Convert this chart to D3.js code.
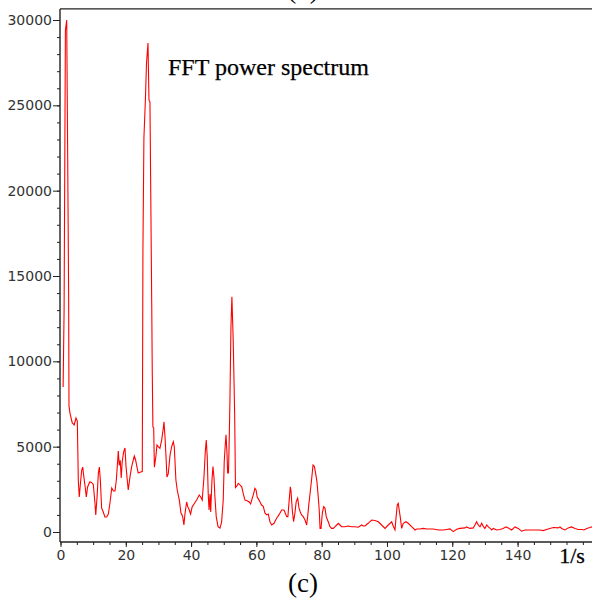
<!DOCTYPE html>
<html>
<head>
<meta charset="utf-8">
<script src="https://cdn.jsdelivr.net/npm/d3@7"></script>
<style>
  body { margin: 0; background: #fff; }
  svg { display: block; }
</style>
</head>
<body>
<div id="grafico"></div>
<script>
const freqs = [0.8, 1.1, 1.3, 1.5, 1.9, 2.2, 2.5, 2.6, 2.9, 3.6, 4.2, 4.75, 5.15, 5.3, 5.45, 5.75, 6.2, 6.5, 6.8, 7.2,
  7.6, 7.9, 8.3, 8.95, 9.5, 10.05, 10.55, 10.8, 11.2, 11.6, 11.9, 12.2, 12.6, 13.1, 13.6, 14.15, 14.65, 15.15, 15.7, 16.2,
  16.7, 17.1, 17.4, 17.7, 18.0, 18.3, 18.6, 18.9, 19.35, 19.75, 20.05, 20.45, 20.75, 21.3, 21.8, 22.3, 22.6, 23.0, 23.4, 23.8,
  24.35, 25.05, 25.25, 25.55, 26.0, 26.35, 26.8, 27.1, 27.4, 27.95, 28.1, 28.3, 28.55, 28.75, 29.05, 29.25, 29.55, 29.95, 30.45, 31.0,
  31.5, 31.7, 32.0, 32.3, 32.6, 33.0, 33.55, 34.05, 34.55, 34.85, 35.05, 35.35, 35.75, 36.4, 36.9, 37.4, 37.8, 38.15, 38.65, 38.95,
  39.45, 39.85, 40.3, 40.9, 41.7, 42.5, 42.95, 43.4, 43.95, 44.35, 44.65, 44.95, 45.25, 45.5, 45.8, 46.0, 46.4, 46.7, 47.0, 47.3,
  47.7, 48.25, 48.85, 49.35, 49.85, 50.15, 50.5, 50.7, 51.0, 51.2, 51.45, 51.7, 51.9, 52.2, 52.5, 52.9, 53.35, 53.6, 54.05, 54.45,
  54.95, 55.5, 56.0, 56.5, 57.2, 57.8, 58.25, 58.55, 59.05, 59.55, 59.9, 60.25, 60.6, 61.1, 61.6, 62.1, 62.65, 63.15, 63.65, 64.15,
  64.7, 65.4, 66.2, 66.9, 67.75, 68.45, 69.3, 69.65, 70.05, 70.4, 70.6, 71.0, 71.4, 71.8, 72.2, 72.65, 73.05, 73.45, 73.85, 74.35,
  74.9, 75.4, 75.7, 76.1, 76.5, 76.95, 77.35, 77.75, 78.15, 78.55, 78.95, 79.25, 79.5, 79.8, 80.2, 80.6, 81.0, 81.4, 82.0, 82.55,
  83.05, 83.55, 84.1, 84.6, 85.1, 85.6, 86.1, 87.15, 88.15, 89.2, 90.2, 91.2, 92.25, 92.75, 93.25, 94.25, 95.3, 96.3, 97.35, 98.35,
  99.4, 100.4, 101.45, 101.9, 102.45, 102.8, 103.15, 103.45, 103.75, 104.05, 104.5, 105.0, 105.8, 106.5, 107.55, 108.6, 109.1, 110.1, 111.1, 112.15,
  114.2, 115.7, 117.25, 118.3, 119.3, 120.3, 121.35, 122.35, 123.9, 124.4, 125.4, 126.45, 126.95, 127.45, 127.95, 128.5, 129.0, 129.5, 130.0, 130.55,
  131.05, 131.6, 132.1, 132.55, 133.6, 134.6, 135.6, 136.45, 137.15, 138.2, 139.2, 140.2, 141.25, 142.3, 143.8, 145.3, 146.85, 147.85, 148.9, 149.9,
  150.95, 152.45, 153.0, 153.5, 154.5, 155.5, 156.55, 157.6, 158.6, 159.65, 160.35, 161.2, 162.15, 162.8];

const potencia = [8500, 13000, 21100, 29400, 30000, 22000, 13600, 7400, 6970, 6390, 6270, 6680, 6500, 4800, 3050, 2050, 3050, 3630, 3800, 3160,
  2580, 2050, 2640, 2930, 2900, 2780, 1700, 1000, 2050, 3460, 3800, 3050, 1400, 1170, 880, 880, 1050, 1700, 2580, 2400,
  2400, 3050, 3870, 4750, 3900, 4200, 3160, 4120, 4700, 4920, 3900, 3050, 2460, 3260, 3830, 4220, 4450, 4220, 3830, 3460,
  3500, 3540, 16600, 23100, 25300, 27500, 28650, 25300, 25200, 13200, 9500, 6150, 6100, 3800, 4200, 4500, 5100, 5000, 4900, 5400,
  6100, 6450, 5600, 4500, 3220, 3400, 4500, 5000, 5290, 5000, 4220, 3050, 2460, 1870, 1110, 930, 410, 1110, 1760, 1500,
  1290, 1050, 1460, 1640, 1870, 2170, 2050, 1870, 3240, 4700, 5390, 4400, 2230, 1290, 2230, 1170, 3050, 3830, 3240, 2050,
  900, 310, 230, 580, 1870, 4120, 5200, 5690, 4600, 3460, 3460, 5590, 7740, 11950, 13790, 11250, 6860, 2600, 2700, 2850,
  2760, 2650, 2230, 1870, 1830, 1760, 1640, 1870, 2170, 2560, 2460, 2050, 1940, 1760, 1580, 1500, 1100, 1000, 1050, 600,
  410, 510, 810, 1000, 1290, 1290, 900, 900, 1870, 2650, 2400, 1290, 600, 1110, 1780, 1990, 1410, 1170, 1000, 900,
  700, 410, 900, 1680, 2360, 3150, 3930, 3850, 3440, 2950, 2050, 1290, 210, 210, 1110, 1480, 1400, 900, 600, 310,
  210, 210, 310, 410, 510, 410, 310, 310, 350, 310, 310, 280, 410, 350, 350, 510, 700, 670, 600, 410,
  210, 410, 600, 350, 120, 900, 1580, 1680, 1290, 900, 210, 510, 600, 510, 310, 120, 180, 180, 210, 180,
  180, 120, 120, 150, 180, 20, 160, 210, 240, 300, 210, 240, 410, 600, 410, 300, 510, 330, 210, 410,
  300, 210, 120, 210, 120, 150, 210, 300, 240, 120, 300, 210, 50, 120, 120, 120, 120, 80, 150, 210,
  260, 240, 300, 210, 120, 240, 300, 210, 150, 150, 120, 210, 260, 300];

const yMaiores = [0, 5000, 10000, 15000, 20000, 25000, 30000];
const xMaiores = [0, 20, 40, 60, 80, 100, 120, 140];
const yMenores = d3.range(0, 31000, 1000);
const xMenores = d3.range(0, 165, 5);
const titulo = "FFT power spectrum";
const rotuloX = "1/s";
const legenda = "(c)";
const legendaAnterior = "(b)";
const yTopo = 30650;
const xFim = 162.8;

const largura = 592, altura = 602;

const svg = d3.select("#grafico").append("svg")
  .attr("width", largura)
  .attr("height", altura);

// escalas
const x = d3.scaleLinear().domain([0, xFim]).range([60.5, 592]);
const y = d3.scaleLinear().domain([0, 30000]).range([532, 20]);

const eixoYpos = 60, eixoXpos = 542;

// linha do espectro
const linha = d3.line()
  .x((d, i) => x(freqs[i]))
  .y(d => y(d));

svg.append("path")
  .datum(potencia)
  .attr("d", linha)
  .attr("fill", "none")
  .attr("stroke", "#ff0000")
  .attr("stroke-width", 1.1)
  .attr("stroke-linejoin", "miter");

// moldura superior
svg.append("line")
  .attr("x1", eixoYpos).attr("x2", largura)
  .attr("y1", y(yTopo)).attr("y2", y(yTopo))
  .attr("stroke", "#222").attr("stroke-width", 1.3);

// eixo y
const gy = svg.append("g")
  .attr("transform", `translate(${eixoYpos},0)`)
  .call(d3.axisLeft(y).tickValues(yMaiores).tickSize(7).tickPadding(1).tickFormat(d3.format("d")));

svg.append("g")
  .attr("transform", `translate(${eixoYpos},0)`)
  .call(d3.axisLeft(y).tickValues(yMenores).tickSize(3).tickFormat(""))
  .select(".domain").remove();

gy.select(".domain")
  .attr("d", `M0,${y(yTopo)}V${eixoXpos}`);

// eixo x
const gx = svg.append("g")
  .attr("transform", `translate(0,${eixoXpos})`)
  .call(d3.axisBottom(x).tickValues(xMaiores).tickSize(5).tickPadding(3).tickFormat(d3.format("d")));

svg.append("g")
  .attr("transform", `translate(0,${eixoXpos})`)
  .call(d3.axisBottom(x).tickValues(xMenores).tickSize(3).tickFormat(""))
  .select(".domain").remove();

gx.select(".domain").attr("d", `M${eixoYpos},0H${largura}`);

svg.selectAll(".domain").attr("stroke", "#222").attr("stroke-width", 1.4);
svg.selectAll(".tick line").attr("stroke", "#222");
svg.selectAll(".tick text")
  .attr("font-family", "DejaVu Sans")
  .attr("font-size", 14)
  .attr("fill", "#333");

// textos
svg.append("text")
  .attr("x", 168).attr("y", 75)
  .attr("font-family", "Liberation Serif")
  .attr("font-size", 24)
  .attr("fill", "#000")
  .attr("stroke", "#000")
  .attr("stroke-width", 0.25)
  .text(titulo);

svg.append("text")
  .attr("x", 572).attr("y", 563)
  .attr("text-anchor", "middle")
  .attr("font-family", "Liberation Serif")
  .attr("font-size", 22)
  .attr("fill", "#000")
  .attr("stroke", "#000")
  .attr("stroke-width", 0.3)
  .text(rotuloX);

svg.append("text")
  .attr("x", 303).attr("y", 592)
  .attr("text-anchor", "middle")
  .attr("font-family", "Liberation Serif")
  .attr("font-size", 27)
  .attr("fill", "#000")
  .text(legenda);

svg.append("text")
  .attr("x", 303).attr("y", -2)
  .attr("text-anchor", "middle")
  .attr("font-family", "Liberation Serif")
  .attr("font-size", 27)
  .attr("fill", "#000")
  .text(legendaAnterior);
</script>
</body>
</html>
